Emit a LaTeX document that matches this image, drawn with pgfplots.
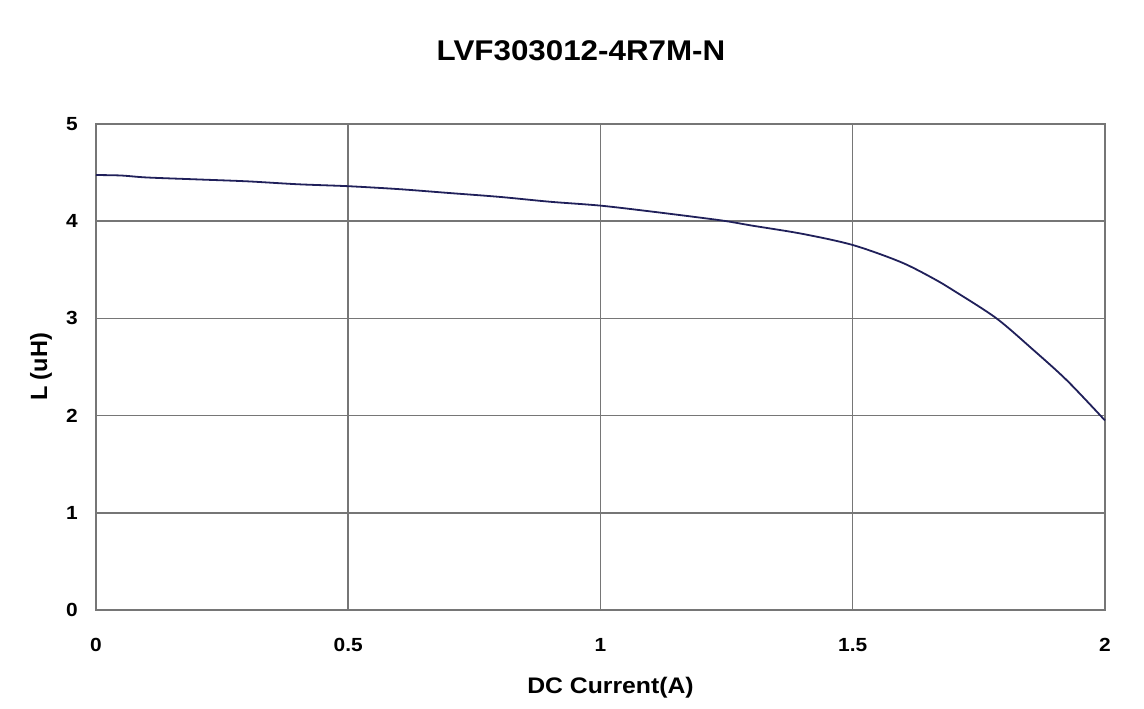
\documentclass[border=0pt]{standalone}
\usepackage{fontspec}
\setmainfont{Liberation Sans}
\usepackage{pgfplots}
\pgfplotsset{compat=1.18}
\definecolor{curve}{HTML}{20205A}
\definecolor{gridc}{HTML}{767676}
\begin{document}
\begin{tikzpicture}[x=1pt,y=1pt]
\path (0,0) rectangle (1144,709);
\begin{axis}[
  at={(96pt,99pt)}, anchor=south west,
  scale only axis, width=1009pt, height=486pt,
  xmin=0, xmax=2, ymin=0, ymax=5,
  xtick={0,0.5,1,1.5,2}, ytick={0,1,2,3,4,5},
  xticklabels={0,0.5,1,1.5,2},
  grid=major,
  major grid style={gridc, line width=1.5pt},
  axis line style={gridc, line width=1.6pt},
  major tick length=0pt,
  /pgf/number format/assume math mode=true,
  tick label style={font=\fontsize{19}{22}\selectfont\bfseries, xscale=1.1},
  xticklabel style={yshift=-25pt},
  yticklabel style={xshift=-13pt},
  xlabel={DC Current(A)}, ylabel={L (uH)},
  xlabel style={font=\fontsize{22.5}{26}\selectfont\bfseries, xscale=1.1,
    at={([xshift=10pt,yshift=-78pt]axis description cs:0.5,0)}, anchor=center},
  ylabel style={font=\fontsize{23.5}{26}\selectfont\bfseries,
    at={([xshift=-55pt]axis description cs:0,0.5)}, anchor=center},
  clip=false,
]
\addplot[curve, line width=1.8pt, smooth] coordinates {
(0,4.475) (0.05,4.47) (0.1,4.45) (0.2,4.43) (0.3,4.41) (0.4,4.38) (0.5,4.36)
(0.6,4.33) (0.7,4.29) (0.8,4.25) (0.9,4.20) (1.0,4.16) (1.1,4.10)
(1.2,4.035) (1.25,4.0) (1.3,3.955) (1.4,3.87) (1.5,3.755) (1.595,3.58)
(1.66,3.41) (1.705,3.27) (1.785,3.0) (1.857,2.68) (1.925,2.36) (2.0,1.95)
};
\end{axis}
\node[font=\fontsize{28.5}{32}\selectfont\bfseries, xscale=1.1] at (581,658) {LVF303012-4R7M-N};
\end{tikzpicture}
\end{document}
